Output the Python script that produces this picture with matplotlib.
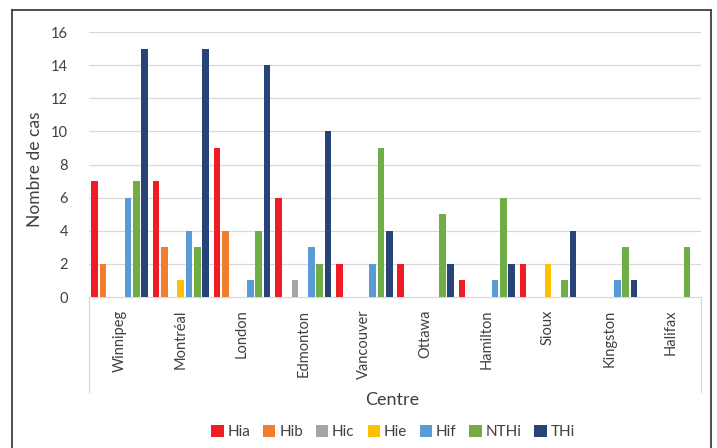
import matplotlib
matplotlib.use("Agg")
import matplotlib.pyplot as plt
import numpy as np
from matplotlib.lines import Line2D
from matplotlib.patches import Patch

centres = ["Winnipeg", "Montréal", "London", "Edmonton", "Vancouver",
           "Ottawa", "Hamilton", "Sioux", "Kingston", "Halifax"]
Hia  = [7, 7, 9, 6, 2, 2, 1, 2, 0, 0]
Hib  = [2, 3, 4, 0, 0, 0, 0, 0, 0, 0]
Hic  = [0, 0, 0, 1, 0, 0, 0, 0, 0, 0]
Hie  = [0, 1, 0, 0, 0, 0, 0, 2, 0, 0]
Hif  = [6, 4, 1, 3, 2, 0, 1, 0, 1, 0]
NTHi = [7, 3, 4, 2, 9, 5, 6, 1, 3, 3]
THi  = [15, 15, 14, 10, 4, 2, 2, 4, 1, 0]
series_names = ["Hia", "Hib", "Hic", "Hie", "Hif", "NTHi", "THi"]
series = [Hia, Hib, Hic, Hie, Hif, NTHi, THi]
colors = ["#EE1C25", "#F07E2E", "#A5A5A5", "#FFC000", "#5B9BD5", "#70AD47", "#264478"]
yticks = [0, 2, 4, 6, 8, 10, 12, 14, 16]

W, H = 717, 448
fig = plt.figure(figsize=(W / 100, H / 100), dpi=100)
plt.rcParams['font.family'] = ['Lato', 'DejaVu Sans']

x0, x1, ytop, ybot = 89, 701, 32, 297
ax = fig.add_axes([x0 / W, 1 - ybot / H, (x1 - x0) / W, (ybot - ytop) / H])

n = len(series)
slot = 0.95 / n
x = np.arange(len(centres))
for i, (name, vals, c) in enumerate(zip(series_names, series, colors)):
    off = (i - (n - 1) / 2) * slot
    ax.bar(x + off, vals, width=slot * 0.8, color=c, label=name, zorder=3)

ax.set_xlim(-0.5, len(centres) - 0.5)
ax.set_ylim(0, 16)
ax.set_yticks(yticks)
ax.set_yticklabels([str(v) for v in yticks], fontsize=10.5, color="#404040")
ax.tick_params(axis='y', length=0, pad=15)
ax.set_xticks(x)
ax.set_xticklabels(centres, rotation=90, fontsize=10.5, color="#404040", va='top')
ax.tick_params(axis='x', length=0, pad=9)
for v in yticks[1:]:
    ax.axhline(v, color="#D9D9D9", lw=0.9, zorder=1)
for s in ["top", "right", "left"]:
    ax.spines[s].set_visible(False)
ax.spines["bottom"].set_color("#D9D9D9")
ax.spines["bottom"].set_linewidth(0.9)

# category label box edges
fig.add_artist(Line2D([x0 / W, x0 / W], [1 - ybot / H, 1 - 392 / H], color="#D9D9D9", lw=0.9))
fig.add_artist(Line2D([x1 / W, x1 / W], [1 - ybot / H, 1 - 392 / H], color="#D9D9D9", lw=0.9))

fig.text(392 / W, 1 - 400 / H, "Centre", ha='center', va='center', fontsize=13, color="#404040")
fig.text(35 / W, 1 - 169 / H, "Nombre de cas", ha='center', va='center', rotation=90,
         fontsize=12.5, color="#404040")

handles = [Patch(facecolor=c, edgecolor='none') for c in colors]
fig.legend(handles, series_names, loc='center', bbox_to_anchor=(393 / W, 1 - 432 / H), ncol=7,
           frameon=False, fontsize=11, handlelength=0.8, handleheight=0.8,
           handletextpad=0.25, columnspacing=0.85, labelcolor="#404040")

# outer frame
fc = "#404040"
fig.add_artist(Line2D([12 / W, 711 / W], [1 - 10 / H, 1 - 10 / H], color=fc, lw=1.3))
fig.add_artist(Line2D([12 / W, 12 / W], [0, 1 - 10 / H], color=fc, lw=1.3))
fig.add_artist(Line2D([711 / W, 711 / W], [0, 1 - 10 / H], color=fc, lw=1.3))

fig.savefig("out.png", dpi=100)
